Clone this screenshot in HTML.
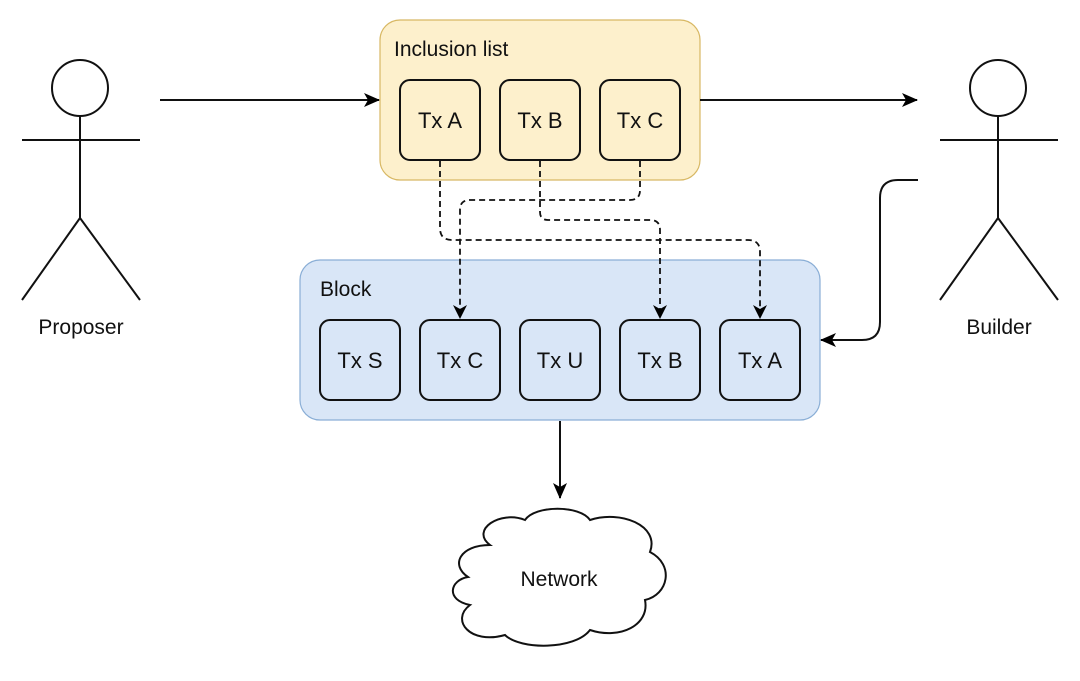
<!DOCTYPE html>
<html><head><meta charset="utf-8"><style>
html,body{margin:0;padding:0;background:#fff;}
svg{display:block;}
text{font-family:"Liberation Sans",sans-serif;fill:#111;}
</style></head><body>
<svg width="1080" height="681" viewBox="0 0 1080 681" xmlns="http://www.w3.org/2000/svg">
<defs>
<marker id="ah" markerWidth="14" markerHeight="14" refX="13" refY="7" orient="auto" markerUnits="userSpaceOnUse">
<path d="M0,0 L14,7 L0,14 L4,7 Z" fill="#000"/>
</marker>
<marker id="ah2" markerWidth="16" markerHeight="14" refX="15" refY="7" orient="auto" markerUnits="userSpaceOnUse">
<path d="M0,0 L16,7 L0,14 L4,7 Z" fill="#000"/>
</marker>
</defs>
<rect width="1080" height="681" fill="#fff"/>
<rect x="380" y="20" width="320" height="160" rx="20" fill="#fdf0cc" stroke="#d8b864" stroke-width="1.2"/>
<text x="394" y="56" font-size="21">Inclusion list</text>
<g stroke="#111" stroke-width="2" fill="#fdf0cc">
<rect x="400" y="80" width="80" height="80" rx="10"/>
<rect x="500" y="80" width="80" height="80" rx="10"/>
<rect x="600" y="80" width="80" height="80" rx="10"/>
</g>
<g font-size="22" text-anchor="middle">
<text x="440" y="128">Tx A</text><text x="540" y="128">Tx B</text><text x="640" y="128">Tx C</text>
</g>
<rect x="300" y="260" width="520" height="160" rx="20" fill="#d9e6f7" stroke="#8aaed6" stroke-width="1.2"/>
<text x="320" y="296" font-size="21">Block</text>
<g stroke="#111" stroke-width="2" fill="#d9e6f7">
<rect x="320" y="320" width="80" height="80" rx="10"/>
<rect x="420" y="320" width="80" height="80" rx="10"/>
<rect x="520" y="320" width="80" height="80" rx="10"/>
<rect x="620" y="320" width="80" height="80" rx="10"/>
<rect x="720" y="320" width="80" height="80" rx="10"/>
</g>
<g font-size="22" text-anchor="middle">
<text x="360" y="368">Tx S</text><text x="460" y="368">Tx C</text><text x="560" y="368">Tx U</text><text x="660" y="368">Tx B</text><text x="760" y="368">Tx A</text>
</g>
<g fill="none" stroke="#111" stroke-width="1.8" stroke-dasharray="6,4">
<path d="M440,161 V228 Q440,240 452,240 H748 Q760,240 760,252 V318" marker-end="url(#ah)"/>
<path d="M540,161 V212 Q540,220 548,220 H650 Q660,220 660,230 V318" marker-end="url(#ah)"/>
<path d="M640,161 V190 Q640,200 630,200 H470 Q460,200 460,210 V318" marker-end="url(#ah)"/>
</g>
<g fill="none" stroke="#111" stroke-width="2">
<path d="M160,100 H379" marker-end="url(#ah2)"/>
<path d="M700,100 H917" marker-end="url(#ah2)"/>
<path d="M918,180 H898 Q880,180 880,198 V322 Q880,340 862,340 H821" marker-end="url(#ah2)"/>
<path d="M560,421 V498" marker-end="url(#ah2)"/>
</g>
<g fill="none" stroke="#111" stroke-width="2">
<circle cx="80" cy="88" r="28"/>
<path d="M80,116 V218 M22,140 H140 M80,218 L22,300 M80,218 L140,300"/>
<circle cx="998" cy="88" r="28"/>
<path d="M998,116 V218 M940,140 H1058 M998,218 L940,300 M998,218 L1058,300"/>
</g>
<text x="81" y="334" font-size="21" text-anchor="middle">Proposer</text>
<text x="999" y="334" font-size="21" text-anchor="middle">Builder</text>
<path d="M490,545 C470,530 500,510 525,520 C535,505 580,505 590,520 C620,510 660,525 650,552 C675,565 668,595 645,600 C650,625 620,640 590,630 C575,650 520,650 505,635 C470,645 450,620 470,605 C445,600 450,580 468,577 C450,565 460,545 490,545 Z" fill="#fff" stroke="#111" stroke-width="2"/>
<text x="559" y="586" font-size="21" text-anchor="middle">Network</text>
</svg>
</body></html>
